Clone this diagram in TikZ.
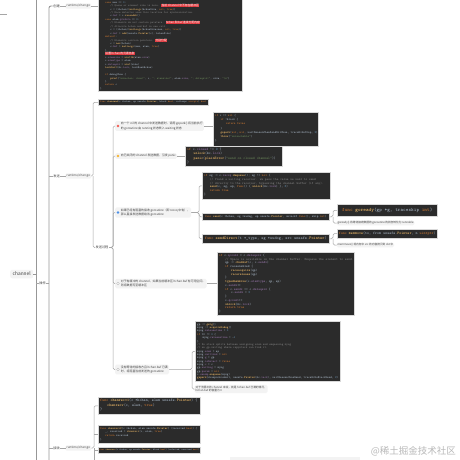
\documentclass[tikz,border=0pt]{standalone}
\usepackage{fontspec}
\usepackage{xcolor}
\usepackage{tikz}
\newfontfamily\cjk{Noto Sans CJK SC}

\definecolor{codebg}{HTML}{2B2B2B}
\definecolor{codefg}{HTML}{A9B7C6}
\definecolor{kwc}{HTML}{CC7832}
\definecolor{fnc}{HTML}{FFC66D}
\definecolor{stc}{HTML}{6A8759}
\definecolor{cmc}{HTML}{808080}
\definecolor{nuc}{HTML}{6897BB}
\definecolor{fdc}{HTML}{9876AA}
\definecolor{hlred}{HTML}{E0393E}
\definecolor{itembg}{HTML}{F3F3F3}
\definecolor{linec}{HTML}{A6A6A6}
\definecolor{spinec}{HTML}{979797}
\definecolor{dotred}{HTML}{F25C54}
\definecolor{dotorange}{HTML}{F7B531}
\definecolor{dotblue}{HTML}{4A8FE7}

\newcommand\ind{\hspace*{1.8em}}
\newcommand\gap{\hspace*{4.5pt}}
\newcommand\ckw[1]{\textcolor{kwc}{#1}}
\newcommand\cfn[1]{\textcolor{fnc}{#1}}
\newcommand\cst[1]{\textcolor{stc}{#1}}
\newcommand\ccm[1]{\textcolor{cmc}{#1}}
\newcommand\cnu[1]{\textcolor{nuc}{#1}}
\newcommand\cfd[1]{\textcolor{fdc}{#1}}
\newcommand\chl[1]{{\cjk\setlength{\fboxsep}{0.25pt}\colorbox{hlred}{\textcolor{white}{#1}}}}

\tikzset{
  link/.style={draw=linec, line width=0.5pt},
  spine/.style={draw=spinec, line width=0.9pt},
  codebox/.style={fill=codebg, draw=gray!30, line width=0.6pt, anchor=north west, inner sep=0pt},
  codetxt/.style={anchor=north west, inner sep=0pt, align=left, text=codefg},
  sigbox/.style={codebox, text=codefg},
  itembox/.style={fill=itembg, rounded corners=1.5pt, inner sep=1.2pt, align=left, anchor=west,
    text=black!75, font=\cjk\fontsize{2.9}{4.4}\selectfont},
  notebox/.style={itembox, inner sep=0.9pt, font=\cjk\fontsize{2.7}{3.8}\selectfont},
  dotmark/.style={circle, inner sep=0pt, minimum size=2.6pt},
  lblnode/.style={inner sep=0.5pt, text=black!75, font=\cjk\fontsize{3.2}{4}\selectfont},
  filebox/.style={fill=itembg, rounded corners=1pt, inner sep=1pt, anchor=west, text=black!70,
    font=\cjk\fontsize{3}{4}\selectfont},
}

\begin{document}
\begin{tikzpicture}[x=1pt,y=-1pt]
  \useasboundingbox (0,0) rectangle (460,460);
  \fill[white] (0,0) rectangle (460,460);
  \clip (0,0) rectangle (460,460);

  % root and the two spines
  \node[fill=itembg, rounded corners=2pt, anchor=west, minimum width=23pt, minimum height=8.5pt,
    inner sep=0pt, text=black!75, font=\cjk\fontsize{4.8}{5}\selectfont] (root) at (10,274) {channel};
  \coordinate (sp0) at (36,-10);
  \coordinate (sp1) at (36,470);
  \coordinate (sp2) at (49,470);
  \coordinate (lt0) at (0,14);
  \coordinate (lt1) at (7,14);
  \draw[link] (lt0) -- (lt1);
  \draw[spine] (sp0) -- (sp1);
  \draw[spine] (root.east) -- (root.east -| sp0);
  \node[lblnode] (op) at (42.5,283.5) {操作};
  \draw[link] (op.west -| sp0) -- (op.west);
  \draw[link] (op.east) -- (op.east -| sp2);

  \node[lblnode] (c0) at (56.5,6) {创建};
  \node[lblnode] (c1) at (56.5,176) {发送};
  \node[lblnode] (c2) at (56.5,448) {接收};
  \draw[spine, rounded corners=2pt] (sp2) |- (c0.west);
  \draw[link] (c1.west -| sp2) -- (c1.west);
  \draw[link] (c2.west -| sp2) -- (c2.west);

  \node[filebox] (rt0) at (65.5,6) {runtime/chan.go};
  \node[filebox] (rt1) at (65.5,176) {runtime/chan.go};
  \node[filebox] (rt2) at (65.5,448) {runtime/chan.go};
  \draw[link] (c0.east) -- (rt0.west);
  \draw[link] (c1.east) -- (rt1.west);
  \draw[link] (c2.east) -- (rt2.west);

  % makechan
  \node[codebox, anchor=south west, minimum width=144pt, minimum height=100pt] (cb0) at (98,92) {};
  \node[codetxt, anchor=south west, font=\ttfamily\fontsize{2.8}{3.45}\selectfont] (cb0t)
    at ([shift={(2,-2.2)}]cb0.south west) {%
\ind\ckw{case} mem == \cnu{0}:\\
\ind\ind\ccm{// Queue or element size is zero.} \chl{当前 Channel 中不存在缓冲区}\\
\ind\ind c = (*hchan)(\cfn{mallocgc}(hchanSize, \ckw{nil}, \ckw{true}))\\
\ind\ind\ccm{// Race detector uses this location for synchronization.}\\
\ind\ind c.\cfd{buf} = c.\cfn{raceaddr}()\\
\ind\ckw{case} elem.\cfd{ptrdata} == \cnu{0}:\\
\ind\ind\ccm{// Elements do not contain pointers.} \chl{hchan 和 buf 连续分配内存}\\
\ind\ind\ccm{// Allocate hchan and buf in one call.}\\
\ind\ind c = (*hchan)(\cfn{mallocgc}(hchanSize+mem, \ckw{nil}, \ckw{true}))\\
\ind\ind c.\cfd{buf} = \cfn{add}(unsafe.\cfn{Pointer}(c), hchanSize)\\
\ind\ckw{default}:\\
\ind\ind\ccm{// Elements contain pointers.} \chl{分别分配}\\
\ind\ind c = \cfn{new}(hchan)\\
\ind\ind c.\cfd{buf} = \cfn{mallocgc}(mem, elem, \ckw{true})\\
\ind\}\\
\ind\chl{设置 hchan 的元素信息}\\
\ind c.\cfd{elemsize} = \cfn{uint16}(elem.\cfd{size})\\
\ind c.\cfd{elemtype} = elem\\
\ind c.\cfd{dataqsiz} = \cfn{uint}(size)\\
\ind\cfn{lockInit}(\&c.\cfd{lock}, lockRankHchan)\\
~\\
\ind\ckw{if} debugChan \{\\
\ind\ind\cfn{print}(\cst{"makechan: chan="}, c, \cst{"; elemsize="}, elem.\cfd{size}, \cst{"; dataqsiz="}, size, \cst{"\textbackslash n"})\\
\ind\}\\
\ind\ckw{return} c\\
\}};
  \draw[link] (rt0.east) -- (rt0.east -| cb0.west);

  % chansend
  \coordinate (b1) at (93,0);
  \coordinate (b2) at (113,0);
  \node[sigbox, minimum width=110pt, minimum height=6pt, font=\ttfamily\fontsize{2.6}{3}\selectfont] (cs)
    at (98,99) {\ckw{func} \cfn{chansend}(c *hchan, ep unsafe.\cfn{Pointer}, block \ckw{bool}, callerpc \ckw{uintptr}) \ckw{bool}};
  \node[lblnode] (p1) at (102,247.5) {发送过程};
  \draw[link, rounded corners=1.5pt] (rt1.east) -- (rt1.east -| b1) |- (cs.west);
  \draw[link, rounded corners=1.5pt] (rt1.east -| b1) |- (p1.west);

  \node[itembox] (i1) at (115,126) {\gap 向一个 nil 的 channel 中发送数据时，调用 gopark() 将当前执行\\\gap 的 goroutine 由 running 状态转入 waiting 状态};
  \node[itembox] (i2) at (115,156) {\gap 向已关闭的 channel 发送数据，引发 panic};
  \node[itembox] (i3) at (115,212.5) {\gap 如果已经有阻塞的接收 goroutine（即 recvq 中有），\\\gap 那么直接发送数据给该 goroutine};
  \node[itembox] (i4) at (115,283.5) {\gap 对于有缓冲的 channel，如果当前缓冲区 hchan.buf 有可用空间，\\\gap 则将数据写至缓冲区};
  \node[itembox] (i5) at (115,369.5) {\gap 没有等待的接收方且 hchan.buf 已满\\\gap 时，将阻塞当前发送的 goroutine};
  \node[dotmark, fill=dotred] (d1) at ([xshift=3pt]i1.west) {};
  \node[dotmark, fill=dotorange] (d2) at ([xshift=3pt]i2.west) {};
  \node[dotmark, fill=dotblue] (d3) at ([xshift=3pt]i3.west) {};
  \node[dotmark, draw=gray!55, fill=white, line width=0.4pt] (d4) at ([xshift=3pt]i4.west) {};
  \node[dotmark, draw=gray!55, fill=white, line width=0.4pt] (d5) at ([xshift=3pt]i5.west) {};
  \foreach \n in {i1,i2,i3,i4,i5}
    \draw[link, rounded corners=1.5pt] (p1.east) -- (p1.east -| b2) |- (\n.west);

  % nil channel
  \node[codebox, minimum width=105pt, minimum height=34pt] (cb1) at (213,112) {};
  \node[codetxt, font=\ttfamily\fontsize{3}{4.2}\selectfont] (cb1t) at ([shift={(2,2.2)}]cb1.north west) {%
\ckw{if} c == \ckw{nil} \{\\
\ind\ckw{if} !block \{\\
\ind\ind\ckw{return false}\\
\ind\}\\
\ind\cfn{gopark}(\ckw{nil}, \ckw{nil}, waitReasonChanSendNilChan, traceEvGoStop, \cnu{2})\\
\ind\cfn{throw}(\cst{"unreachable"})\\
\}};
  \draw[link] (i1.east) -- (i1.east -| cb1.west);

  % closed channel
  \node[codebox, minimum width=97pt, minimum height=20pt] (cb2) at (185,146) {};
  \node[codetxt, font=\ttfamily\fontsize{3.6}{4.2}\selectfont] (cb2t) at ([shift={(2,2)}]cb2.north west) {%
\ckw{if} c.\cfd{closed} != \cnu{0} \{\\
\ind\cfn{unlock}(\&c.\cfd{lock})\\
\ind\cfn{panic}(\cfn{plainError}(\cst{"send on closed channel"}))\\
\}};
  \draw[link] (i2.east) -- (i2.east -| cb2.west);

  % direct send
  \coordinate (b3) at (199,0);
  \coordinate (b4) at (333,0);
  \node[codebox, minimum width=128pt, minimum height=27pt] (cb3) at (202,172) {};
  \node[codetxt, font=\ttfamily\fontsize{3.2}{3.8}\selectfont] (cb3t) at ([shift={(2,2)}]cb3.north west) {%
\ckw{if} sg := c.\cfd{recvq}.\cfn{dequeue}(); sg != \ckw{nil} \{\\
\ind\ccm{// Found a waiting receiver. We pass the value we want to send}\\
\ind\ccm{// directly to the receiver, bypassing the channel buffer (if any).}\\
\ind\cfn{send}(c, sg, ep, \ckw{func}() \{ \cfn{unlock}(\&c.\cfd{lock}) \}, \cnu{3})\\
\ind\ckw{return true}\\
\}};
  \node[sigbox, minimum width=127pt, minimum height=7pt, font=\ttfamily\fontsize{3.05}{3.5}\selectfont] (s1)
    at (202,213) {\ckw{func} \cfn{send}(c *hchan, sg *sudog, ep unsafe.\cfn{Pointer}, unlockf \ckw{func}(), skip \ckw{int})};
  \node[sigbox, minimum width=127pt, minimum height=9pt, font=\ttfamily\fontsize{4.1}{4.5}\selectfont] (s2)
    at (202,234) {\ckw{func} \cfn{sendDirect}(t *\_type, sg *sudog, src unsafe.\cfn{Pointer})};
  \foreach \n in {cb3,s1,s2}
    \draw[link, rounded corners=1.5pt] (i3.east) -- (i3.east -| b3) |- (\n.west);

  \node[sigbox, minimum width=100pt, minimum height=12pt, font=\ttfamily\fontsize{5}{5.5}\selectfont] (g1)
    at (337,204) {\ckw{func} \cfn{goready}(gp *g, traceskip \ckw{int})};
  \node[notebox] (n1) at (336.5,223) {goready() 将等待接收数据的 goroutine 的状态转化为 runnable};
  \node[sigbox, minimum width=100pt, minimum height=8.5pt, font=\ttfamily\fontsize{3.8}{4.2}\selectfont] (m1)
    at (337,229) {\ckw{func} \cfn{memmove}(to, from unsafe.\cfn{Pointer}, n \ckw{uintptr})};
  \node[notebox] (n2) at (336.5,245) {memmove() 将内存中 src 的内容拷贝到 dst 中};
  \draw[link, rounded corners=1.5pt] (s1.east) -- (s1.east -| b4) |- (g1.west);
  \draw[link, rounded corners=1.5pt] (s1.east -| b4) |- (n1.west);
  \draw[link, rounded corners=1.5pt] (s2.east) -- (s2.east -| b4) |- (m1.west);
  \draw[link, rounded corners=1.5pt] (s2.east -| b4) |- (n2.west);

  % buffered send
  \node[codebox, minimum width=137pt, minimum height=63pt] (cb4) at (217,252) {};
  \node[codetxt, font=\ttfamily\fontsize{3.3}{3.75}\selectfont] (cb4t) at ([shift={(2,2)}]cb4.north west) {%
\ckw{if} c.\cfd{qcount} < c.\cfd{dataqsiz} \{\\
\ind\ccm{// Space is available in the channel buffer. Enqueue the element to send.}\\
\ind qp := \cfn{chanbuf}(c, c.\cfd{sendx})\\
\ind\ckw{if} raceenabled \{\\
\ind\ind\cfn{raceacquire}(qp)\\
\ind\ind\cfn{racerelease}(qp)\\
\ind\}\\
\ind\cfn{typedmemmove}(c.\cfd{elemtype}, qp, ep)\\
\ind c.\cfd{sendx}++\\
\ind\ckw{if} c.\cfd{sendx} == c.\cfd{dataqsiz} \{\\
\ind\ind c.\cfd{sendx} = \cnu{0}\\
\ind\}\\
\ind c.\cfd{qcount}++\\
\ind\cfn{unlock}(\&c.\cfd{lock})\\
\ind\ckw{return true}\\
\}};
  \draw[link] (i4.east) -- (i4.east -| cb4.west);

  % blocking send
  \coordinate (b5) at (192,0);
  \node[codebox, minimum width=145pt, minimum height=60pt] (cb5) at (195,321) {};
  \node[codetxt, font=\ttfamily\fontsize{2.95}{3.35}\selectfont] (cb5t) at ([shift={(2,2)}]cb5.north west) {%
gp := \cfn{getg}()\\
mysg := \cfn{acquireSudog}()\\
mysg.\cfd{releasetime} = \cnu{0}\\
\ckw{if} t0 != \cnu{0} \{\\
\ind mysg.\cfd{releasetime} = -\cnu{1}\\
\}\\
\ccm{// No stack splits between assigning elem and enqueuing mysg}\\
\ccm{// on gp.waiting where copystack can find it.}\\
mysg.\cfd{elem} = ep\\
mysg.\cfd{waitlink} = \ckw{nil}\\
mysg.\cfd{g} = gp\\
mysg.\cfd{isSelect} = \ckw{false}\\
mysg.\cfd{c} = c\\
gp.\cfd{waiting} = mysg\\
gp.\cfd{param} = \ckw{nil}\\
c.\cfd{sendq}.\cfn{enqueue}(mysg)\\
\cfn{gopark}(chanparkcommit, unsafe.\cfn{Pointer}(\&c.\cfd{lock}), waitReasonChanSend, traceEvGoBlockSend, \cnu{2})};
  \node[notebox] (n3) at (194.5,389) {对于无缓冲的 channel 来说，就是 hchan.buf 已满的情况，\\hchan.buf 的容量为 0};
  \draw[link, rounded corners=1.5pt] (i5.east) -- (i5.east -| b5) |- (cb5.west);
  \draw[link, rounded corners=1.5pt] (i5.east -| b5) |- (n3.west);

  % chanrecv
  \coordinate (b6) at (94,0);
  \coordinate (rEnd) at (94,470);
  \node[codebox, minimum width=102pt, minimum height=17pt] (r1) at (98,397) {};
  \node[codetxt, font=\ttfamily\fontsize{3.9}{4.3}\selectfont] (r1t) at ([shift={(2,2)}]r1.north west) {%
\ckw{func} \cfn{chanrecv1}(c *hchan, elem unsafe.\cfn{Pointer}) \{\\
\ind\cfn{chanrecv}(c, elem, \ckw{true})\\
\}};
  \node[codebox, minimum width=102pt, minimum height=18pt] (r2) at (98,425) {};
  \node[codetxt, font=\ttfamily\fontsize{2.9}{3.6}\selectfont] (r2t) at ([shift={(2,2)}]r2.north west) {%
\ckw{func} \cfn{chanrecv2}(c *hchan, elem unsafe.\cfn{Pointer}) (received \ckw{bool}) \{\\
\ind \_, received = \cfn{chanrecv}(c, elem, \ckw{true})\\
\ind\ckw{return} received\\
\}};
  \node[sigbox, minimum width=102pt, minimum height=6pt, font=\ttfamily\fontsize{2.35}{2.8}\selectfont] (r3)
    at (98,447) {\ckw{func} \cfn{chanrecv}(c *hchan, ep unsafe.\cfn{Pointer}, block \ckw{bool}) (selected, received \ckw{bool})};
  \draw[link, rounded corners=1.5pt] (rt2.east) -- (rt2.east -| b6) |- (r1.west);
  \draw[link] (rt2.east -| b6) -- (rEnd);
  \draw[link] (r2.west -| b6) -- (r2.west);
  \draw[link] (r3.west -| b6) -- (r3.west);
  \node[fill=itembg, anchor=north west, minimum width=130pt, minimum height=8pt, inner sep=0pt] (tail) at (230,457) {};

  % \node at (230,470) {more};
  \node[anchor=east, inner sep=0pt, text=gray!55, font=\cjk\fontsize{9.5}{10}\selectfont] (wm) at (456,451) {@稀土掘金技术社区};
\end{tikzpicture}
\end{document}
